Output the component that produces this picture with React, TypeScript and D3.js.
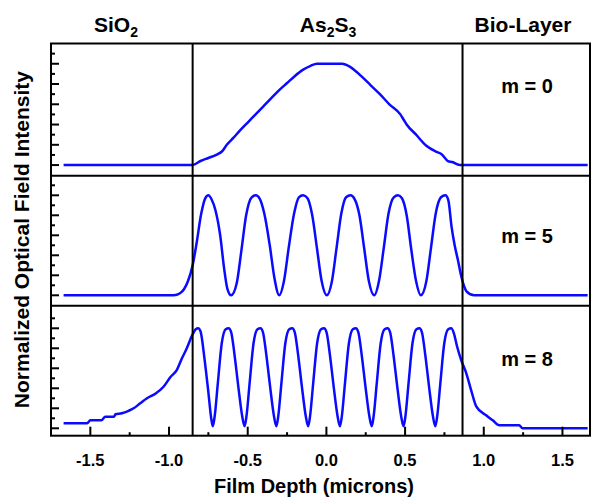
import React from 'react';
import * as d3 from 'd3';

// values
const X_MAJOR = [-1.5, -1.0, -0.5, 0.0, 0.5, 1.0, 1.5];
const X_MINOR = [-1.25, -0.75, -0.25, 0.25, 0.75, 1.25];
const Y_MAJOR = [0, 0.2, 0.4, 0.6, 0.8, 1.0];
const Y_MINOR = [0.1, 0.3, 0.5, 0.7, 0.9, 1.1];
const BOUNDARIES = [-0.85, 0.865];
const MODE_LABELS = ['m = 0', 'm = 5', 'm = 8'];

type Pt = [number, number];

const M0: Pt[] = [
  [-1.67, 0], [-0.85, 0], [-0.8, 0.04], [-0.75, 0.07], [-0.7, 0.1], [-0.66, 0.14],
  [-0.633, 0.2], [-0.59, 0.27], [-0.55, 0.34], [-0.5, 0.42], [-0.45, 0.5], [-0.4, 0.58],
  [-0.35, 0.66], [-0.3, 0.74], [-0.25, 0.81], [-0.2, 0.88], [-0.15, 0.94], [-0.1, 0.98],
  [-0.06, 1.0], [0.1, 1.0], [0.15, 0.97], [0.22, 0.88], [0.28, 0.79], [0.34, 0.7],
  [0.4, 0.6], [0.47, 0.5], [0.49, 0.45], [0.51, 0.4], [0.57, 0.3], [0.635, 0.19], [0.7, 0.13],
  [0.73, 0.11], [0.772, 0.04], [0.8, 0.03], [0.846, 0.0], [1.66, 0],
];

const M5: Pt[] = [
  [-1.67, 0], [-0.97, 0], [-0.93, 0.02], [-0.905, 0.06], [-0.88, 0.14], [-0.85, 0.3],
  [-0.825, 0.52], [-0.795, 0.82], [-0.77, 0.97], [-0.75, 1.0], [-0.73, 0.96], [-0.705, 0.85],
  [-0.675, 0.6], [-0.65, 0.27], [-0.63, 0.07], [-0.605, 0.0],
  [-0.57, 0.12], [-0.54, 0.45], [-0.51, 0.8], [-0.475, 0.98], [-0.449, 1.0], [-0.425, 0.97],
  [-0.395, 0.82], [-0.36, 0.5], [-0.33, 0.17], [-0.3, 0.0],
  [-0.27, 0.14], [-0.24, 0.47], [-0.205, 0.82], [-0.175, 0.98], [-0.148, 1.0], [-0.12, 0.97],
  [-0.09, 0.8], [-0.06, 0.47], [-0.03, 0.14], [0.003, 0.0],
  [0.035, 0.14], [0.065, 0.48], [0.095, 0.82], [0.125, 0.98], [0.153, 1.0], [0.18, 0.96],
  [0.21, 0.8], [0.24, 0.47], [0.27, 0.14], [0.304, 0.0],
  [0.335, 0.15], [0.365, 0.48], [0.395, 0.82], [0.428, 0.98], [0.455, 1.0], [0.48, 0.97],
  [0.51, 0.8], [0.54, 0.45], [0.57, 0.14], [0.6, 0.0],
  [0.635, 0.14], [0.665, 0.48], [0.695, 0.82], [0.728, 0.98], [0.756, 1.0], [0.775, 0.95],
  [0.795, 0.69], [0.815, 0.5], [0.836, 0.35], [0.857, 0.19], [0.875, 0.09], [0.89, 0.04],
  [0.94, 0], [1.66, 0],
];

const M8: Pt[] = [
  [-1.67, 0.05], [-1.52, 0.05], [-1.5, 0.08], [-1.43, 0.08], [-1.405, 0.115], [-1.35, 0.115],
  [-1.34, 0.14], [-1.3, 0.15], [-1.257, 0.175], [-1.225, 0.2], [-1.183, 0.25], [-1.14, 0.3],
  [-1.087, 0.345], [-1.035, 0.415], [-0.992, 0.51], [-0.95, 0.585], [-0.918, 0.7], [-0.887, 0.8],
  [-0.853, 0.93], [-0.83, 0.99],
  [-0.815, 1.0], [-0.8, 0.97], [-0.775, 0.7], [-0.75, 0.36], [-0.732, 0.1], [-0.722, 0.02],
  [-0.71, 0.12], [-0.69, 0.45], [-0.665, 0.85], [-0.64, 0.99], [-0.621, 1.0], [-0.605, 0.96],
  [-0.585, 0.75], [-0.56, 0.42], [-0.535, 0.12], [-0.52, 0.02],
  [-0.508, 0.12], [-0.488, 0.45], [-0.463, 0.85], [-0.438, 0.99], [-0.419, 1.0], [-0.403, 0.96],
  [-0.383, 0.75], [-0.358, 0.42], [-0.333, 0.12], [-0.318, 0.02],
  [-0.306, 0.12], [-0.286, 0.45], [-0.261, 0.85], [-0.236, 0.99], [-0.217, 1.0], [-0.201, 0.96],
  [-0.181, 0.75], [-0.156, 0.42], [-0.131, 0.12], [-0.116, 0.02],
  [-0.104, 0.12], [-0.084, 0.45], [-0.059, 0.85], [-0.034, 0.99], [-0.015, 1.0], [0.001, 0.96],
  [0.021, 0.75], [0.046, 0.42], [0.071, 0.12], [0.086, 0.02],
  [0.098, 0.12], [0.118, 0.45], [0.143, 0.85], [0.168, 0.99], [0.187, 1.0], [0.203, 0.96],
  [0.223, 0.75], [0.248, 0.42], [0.273, 0.12], [0.288, 0.02],
  [0.3, 0.12], [0.32, 0.45], [0.345, 0.85], [0.37, 0.99], [0.389, 1.0], [0.405, 0.96],
  [0.425, 0.75], [0.45, 0.42], [0.475, 0.12], [0.49, 0.02],
  [0.502, 0.12], [0.522, 0.45], [0.547, 0.85], [0.572, 0.99], [0.591, 1.0], [0.607, 0.96],
  [0.627, 0.75], [0.652, 0.42], [0.677, 0.12], [0.692, 0.02],
  [0.704, 0.12], [0.724, 0.45], [0.749, 0.85], [0.774, 0.99], [0.793, 1.0], [0.81, 0.95],
  [0.83, 0.82], [0.857, 0.68], [0.889, 0.55], [0.92, 0.38], [0.952, 0.22], [1.015, 0.13],
  [1.057, 0.08], [1.099, 0.03], [1.225, 0.03], [1.246, 0.0], [1.66, 0],
];

const SERIES = [M0, M5, M8];

// layout
const W = 591;
const H = 498;
const LEFT = 51;
const RIGHT = 590;
const PANEL_EDGES = [43.5, 175.7, 305.7, 435.7];
const PANEL_DOMAINS: [number, number][] = [[-0.105, 1.2], [-0.104, 1.196], [-0.074, 1.226]];
const LABEL_V = [0.71, 0.52, 0.62];
const FONT = '"Liberation Sans", Arial, Helvetica, sans-serif';
const BLUE = '#0a0aff';

const App = () => {
  const x = d3.scaleLinear().domain([-1.75, 1.675]).range([LEFT, RIGHT]);
  const panels = SERIES.map((data, i) => {
    const y = d3.scaleLinear().domain(PANEL_DOMAINS[i]).range([PANEL_EDGES[i + 1], PANEL_EDGES[i]]);
    const line = d3.line<Pt>().x(d => x(d[0])).y(d => y(d[1])).curve(d3.curveMonotoneX);
    return { data, y, path: line(data) || '' };
  });
  const top = PANEL_EDGES[0];
  const bottom = PANEL_EDGES[3];

  return (
    <svg width={W} height={H} style={{ position: 'absolute', left: 0, top: 0, background: '#fff' }}
      fontFamily={FONT} fontWeight="bold">
      {/* layer names */}
      <text x={116} y={32} fontSize={21} textAnchor="middle">SiO<tspan fontSize={14} dy={5}>2</tspan></text>
      <text x={328} y={32} fontSize={21} textAnchor="middle">
        As<tspan fontSize={14} dy={5}>2</tspan><tspan dy={-5}>S</tspan><tspan fontSize={14} dy={5}>3</tspan>
      </text>
      <text x={523} y={32} fontSize={21} textAnchor="middle">Bio-Layer</text>

      {panels.map((p, i) => (
        <g key={i}>
          {Y_MAJOR.map(t => (
            <line key={'M' + t} x1={LEFT} x2={LEFT + 8} y1={p.y(t)} y2={p.y(t)} stroke="#000" strokeWidth={2} />
          ))}
          {Y_MINOR.map(t => (
            <line key={'m' + t} x1={LEFT} x2={LEFT + 4} y1={p.y(t)} y2={p.y(t)} stroke="#000" strokeWidth={2} />
          ))}
          <path d={p.path} fill="none" stroke={BLUE} strokeWidth={2.5} strokeLinejoin="round" />
          <text x={527} y={p.y(LABEL_V[i])} fontSize={20} textAnchor="middle">{MODE_LABELS[i]}</text>
        </g>
      ))}

      {/* layer boundaries */}
      {BOUNDARIES.map(b => (
        <line key={b} x1={x(b)} x2={x(b)} y1={top} y2={bottom} stroke="#000" strokeWidth={2} />
      ))}

      {/* panel separators and frame */}
      {PANEL_EDGES.slice(1, 3).map(e => (
        <line key={e} x1={LEFT} x2={RIGHT} y1={e} y2={e} stroke="#000" strokeWidth={2} />
      ))}
      <rect x={LEFT} y={top} width={RIGHT - LEFT} height={bottom - top} fill="none" stroke="#000" strokeWidth={2} />

      {/* x axis */}
      {X_MAJOR.map(t => (
        <g key={t}>
          <line x1={x(t)} x2={x(t)} y1={bottom} y2={bottom - 9} stroke="#000" strokeWidth={2} />
          <text x={x(t)} y={466} fontSize={16.5} textAnchor="middle">{t.toFixed(1)}</text>
        </g>
      ))}
      {X_MINOR.map(t => (
        <line key={t} x1={x(t)} x2={x(t)} y1={bottom} y2={bottom - 3.5} stroke="#000" strokeWidth={2} />
      ))}
      <text x={314} y={493} fontSize={20} textAnchor="middle">Film Depth (microns)</text>
      <text transform={`translate(29,${(top + bottom) / 2}) rotate(-90)`} fontSize={21} textAnchor="middle">
        Normalized Optical Field Intensity
      </text>
    </svg>
  );
};

export default App;
